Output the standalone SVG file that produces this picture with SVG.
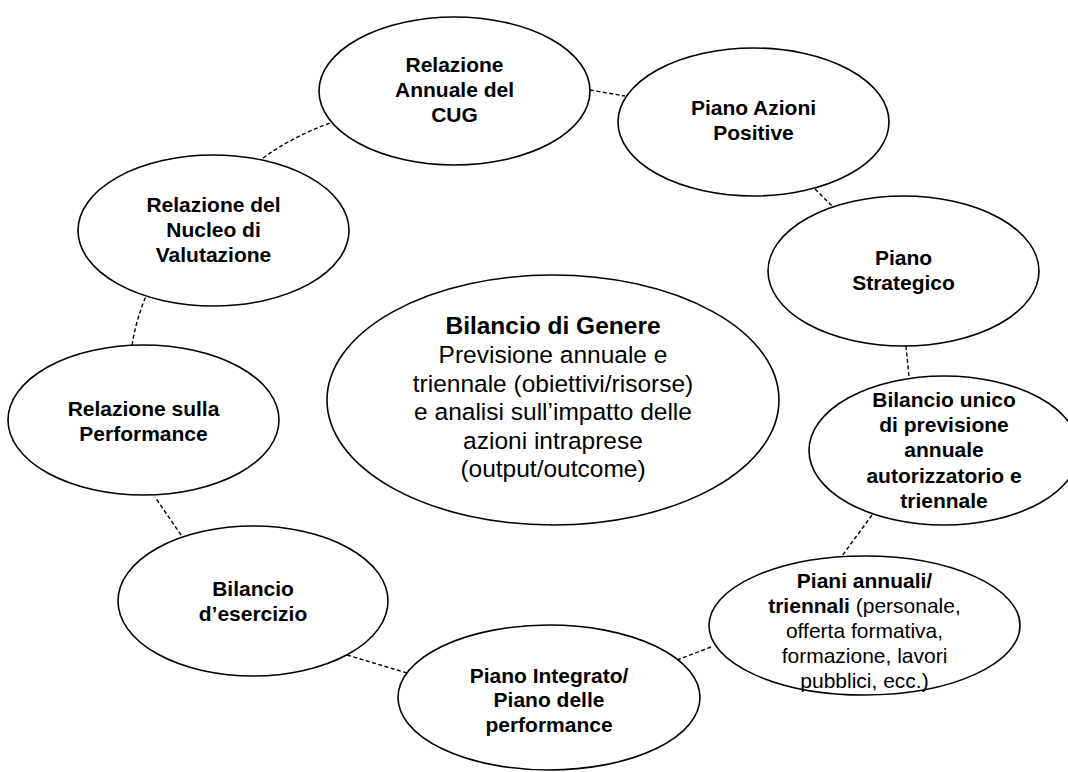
<svg xmlns="http://www.w3.org/2000/svg" width="1068" height="772" viewBox="0 0 1068 772">
<style>
.node ellipse{fill:#fff;stroke:#000;stroke-width:1.6}
.conn path{fill:none;stroke:#000;stroke-width:1.4;stroke-dasharray:4 2.5}
text{font-family:"Liberation Sans",Arial,sans-serif;fill:#000;text-anchor:middle}
.b{font-weight:bold;font-size:21px}
.r{font-weight:normal}
.c{font-size:24.5px}
</style>
<rect width="1068" height="772" fill="#fff"/>
<g id="connectors" class="conn">
<path d="M590 90 L625 96"/>
<path d="M815 189 L832 206"/>
<path d="M906 346 L909 377"/>
<path d="M872 515 L842 556"/>
<path d="M711 647 L677 660"/>
<path d="M407 673 L347 655"/>
<path d="M181 535 L155 497"/>
<path d="M132 345 Q136 320 146 296"/>
<path d="M263 158 Q292 137 330 123"/>
</g>
<g id="center" class="node">
<ellipse cx="553" cy="400" rx="226" ry="125"/>
<text class="c" x="553" y="334" font-weight="bold">Bilancio di Genere</text>
<text class="c" x="553" y="363">Previsione annuale e</text>
<text class="c" x="553" y="392">triennale (obiettivi/risorse)</text>
<text class="c" x="553" y="420">e analisi sull’impatto delle</text>
<text class="c" x="553" y="449">azioni intraprese</text>
<text class="c" x="553" y="477">(output/outcome)</text>
</g>
<g id="cug" class="node">
<ellipse cx="454.5" cy="91" rx="135.5" ry="74"/>
<text class="b" x="454.5" y="72">Relazione</text>
<text class="b" x="454.5" y="97">Annuale del</text>
<text class="b" x="454.5" y="122">CUG</text>
</g>
<g id="azioni" class="node">
<ellipse cx="753.5" cy="122" rx="135.5" ry="74"/>
<text class="b" x="753.5" y="115">Piano Azioni</text>
<text class="b" x="753.5" y="140">Positive</text>
</g>
<g id="strategico" class="node">
<ellipse cx="903.5" cy="271" rx="135.5" ry="75"/>
<text class="b" x="903.5" y="265">Piano</text>
<text class="b" x="903.5" y="290">Strategico</text>
</g>
<g id="bilancio-unico" class="node">
<ellipse cx="944" cy="450.5" rx="135" ry="74.5"/>
<text class="b" x="944" y="407">Bilancio unico</text>
<text class="b" x="944" y="432">di previsione</text>
<text class="b" x="944" y="457">annuale</text>
<text class="b" x="944" y="483">autorizzatorio e</text>
<text class="b" x="944" y="508">triennale</text>
</g>
<g id="piani" class="node">
<ellipse cx="864.5" cy="625.5" rx="155.5" ry="69.5"/>
<text class="b" x="864.5" y="588">Piani annuali/</text>
<text class="b" x="864.5" y="613">triennali<tspan class="r"> (personale,</tspan></text>
<text class="b r" x="864.5" y="638">offerta formativa,</text>
<text class="b r" x="864.5" y="663">formazione, lavori</text>
<text class="b r" x="864.5" y="688">pubblici, ecc.)</text>
</g>
<g id="integrato" class="node">
<ellipse cx="549" cy="697.5" rx="151" ry="72.5"/>
<text class="b" x="549" y="683">Piano Integrato/</text>
<text class="b" x="549" y="707">Piano delle</text>
<text class="b" x="549" y="732">performance</text>
</g>
<g id="esercizio" class="node">
<ellipse cx="253" cy="601" rx="135" ry="75"/>
<text class="b" x="253" y="596">Bilancio</text>
<text class="b" x="253" y="621">d’esercizio</text>
</g>
<g id="performance" class="node">
<ellipse cx="143.5" cy="420" rx="135.5" ry="75"/>
<text class="b" x="143.5" y="416">Relazione sulla</text>
<text class="b" x="143.5" y="441">Performance</text>
</g>
<g id="nucleo" class="node">
<ellipse cx="213.5" cy="230.5" rx="135.5" ry="75.5"/>
<text class="b" x="213.5" y="212">Relazione del</text>
<text class="b" x="213.5" y="237">Nucleo di</text>
<text class="b" x="213.5" y="262">Valutazione</text>
</g>
</svg>
